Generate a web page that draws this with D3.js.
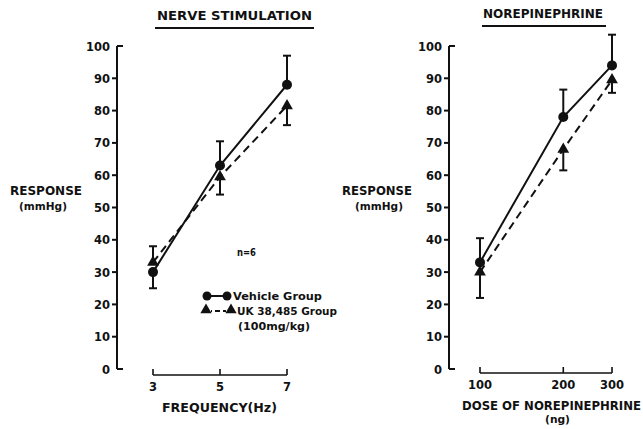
<!DOCTYPE html>
<html><head><meta charset="utf-8">
<script src="https://cdn.jsdelivr.net/npm/d3@7"></script>
<style>body{margin:0;background:#fff}svg{display:block}text{font-family:"DejaVu Sans",Arial,sans-serif;font-weight:bold;fill:#111}</style>
</head><body>
<script>
// Data
const freqCats = [3, 5, 7];
const freqVehicle = [30, 63, 88];
const freqVehicleErr = [5, 7.5, 9];
const freqUK = [33, 59.5, 81.5];
const freqUKErr = [5, 5.5, 6];

const doseCats = [100, 200, 300];
const doseVehicle = [33, 78, 94];
const doseVehicleErr = [7.5, 8.5, 9.5];
const doseUK = [30, 68, 89.5];
const doseUKErr = [8, 6.5, 4];

const yTicks = [0, 10, 20, 30, 40, 50, 60, 70, 80, 90, 100];

const W = 643, H = 429;
const svg = d3.select("body").append("svg").attr("width", W).attr("height", H);

function label(g, txt, x0, x1, yb, size) {
  return g.append("text").attr("x", x0).attr("y", yb).attr("font-size", size)
    .attr("textLength", x1 - x0).attr("lengthAdjust", "spacingAndGlyphs").text(txt);
}

function panel(opt) {
  const g = svg.append("g");
  const y = d3.scaleLinear().domain([0, 100]).range([369, 46]);
  const x = opt.x;
  const ax = opt.yAxisX;
  g.append("line").attr("x1", ax).attr("x2", ax).attr("y1", y(100)).attr("y2", y(0)).attr("stroke", "#111").attr("stroke-width", 2);
  g.append("line").attr("x1", ax).attr("x2", ax + 6).attr("y1", y(100)).attr("y2", y(100)).attr("stroke", "#111").attr("stroke-width", 2);
  g.append("line").attr("x1", ax).attr("x2", ax + 6).attr("y1", y(0)).attr("y2", y(0)).attr("stroke", "#111").attr("stroke-width", 2);
  yTicks.forEach(t => {
    if (t !== 0 && t !== 100)
      g.append("line").attr("x1", ax - 5).attr("x2", ax).attr("y1", y(t)).attr("y2", y(t)).attr("stroke", "#111").attr("stroke-width", 2);
    g.append("text").attr("x", ax - 7).attr("y", y(t) + 4.5).attr("text-anchor", "end")
      .attr("font-size", 11.5).text(t);
  });
  // y title
  label(g, "RESPONSE", opt.yT1[0], opt.yT1[1], 195, 11.5);
  label(g, "(mmHg)", opt.yT2[0], opt.yT2[1], 210, 10.5);
  // x axis
  const ay = opt.xAxisY;
  const [x0, x1] = x.range();
  g.append("line").attr("x1", x0).attr("x2", x1).attr("y1", ay).attr("y2", ay).attr("stroke", "#111").attr("stroke-width", 1.6);
  opt.cats.forEach(c => {
    g.append("line").attr("x1", x(c)).attr("x2", x(c)).attr("y1", ay).attr("y2", ay - 6).attr("stroke", "#111").attr("stroke-width", 1.6);
    g.append("text").attr("x", x(c)).attr("y", ay + 16).attr("text-anchor", "middle").attr("font-size", 11.5).text(c);
  });
  opt.xTitle.forEach(t => label(g, t[0], t[1], t[2], t[3], t[4]));
  // title
  label(g, opt.title, opt.titleX[0], opt.titleX[1], opt.titleY, 11.5);
  g.append("line").attr("x1", opt.ulX[0]).attr("x2", opt.ulX[1]).attr("y1", opt.titleY + 8).attr("y2", opt.titleY + 8).attr("stroke", "#111").attr("stroke-width", 2);

  const line = d3.line().x(d => x(d[0])).y(d => y(d[1]));
  const vData = opt.cats.map((c, i) => [c, opt.vehicle[i]]);
  const uData = opt.cats.map((c, i) => [c, opt.uk[i]]);
  opt.cats.forEach((c, i) => {
    const v = opt.vehicle[i], u = opt.uk[i];
    const vEnd = v >= u ? v + opt.vErr[i] : v - opt.vErr[i];
    const uEnd = v >= u ? u - opt.uErr[i] : u + opt.uErr[i];
    [[v, vEnd], [u, uEnd]].forEach(([a, b]) => {
      g.append("line").attr("x1", x(c)).attr("x2", x(c)).attr("y1", y(a)).attr("y2", y(b)).attr("stroke", "#111").attr("stroke-width", 2);
      g.append("line").attr("x1", x(c) - 4).attr("x2", x(c) + 4).attr("y1", y(b)).attr("y2", y(b)).attr("stroke", "#111").attr("stroke-width", 2);
    });
  });
  g.append("path").attr("d", line(uData)).attr("fill", "none").attr("stroke", "#111").attr("stroke-width", 2).attr("stroke-dasharray", "8,5");
  g.append("path").attr("d", line(vData)).attr("fill", "none").attr("stroke", "#111").attr("stroke-width", 2);
  const tri = d3.symbol().type(d3.symbolTriangle).size(60);
  uData.forEach(d => g.append("path").attr("d", tri()).attr("transform", `translate(${x(d[0])},${y(d[1])})`).attr("fill", "#111"));
  vData.forEach(d => g.append("circle").attr("cx", x(d[0])).attr("cy", y(d[1])).attr("r", 5).attr("fill", "#111"));
  return g;
}

panel({
  x: d3.scaleLinear().domain([3, 7]).range([153, 287]),
  cats: freqCats, vehicle: freqVehicle, vErr: freqVehicleErr, uk: freqUK, uErr: freqUKErr,
  yAxisX: 117, yT1: [10, 82], yT2: [19, 67], xAxisY: 375,
  xTitle: [["FREQUENCY(Hz)", 162, 277, 412, 11.5]],
  title: "NERVE STIMULATION", titleX: [157, 312], titleY: 20, ulX: [155, 314]
});
panel({
  x: d3.scaleLog().domain([100, 300]).range([480, 612]),
  cats: doseCats, vehicle: doseVehicle, vErr: doseVehicleErr, uk: doseUK, uErr: doseUKErr,
  yAxisX: 449, yT1: [342, 412], yT2: [355, 403], xAxisY: 373,
  xTitle: [["DOSE OF NOREPINEPHRINE", 462, 641, 410, 11.5], ["(ng)", 545, 570, 423, 10.5]],
  title: "NOREPINEPHRINE", titleX: [483, 603], titleY: 18, ulX: [482, 606]
});

// n=6 and legend
label(svg, "n=6", 237, 256, 256, 10.5);
svg.append("line").attr("x1", 207).attr("x2", 227).attr("y1", 296).attr("y2", 296).attr("stroke", "#111").attr("stroke-width", 2);
[207, 227].forEach(cx => svg.append("circle").attr("cx", cx).attr("cy", 296).attr("r", 4.5).attr("fill", "#111"));
svg.append("line").attr("x1", 211).attr("x2", 226).attr("y1", 311).attr("y2", 311).attr("stroke", "#111").attr("stroke-width", 2).attr("stroke-dasharray", "5,3").attr("stroke-dashoffset", -4);
const tri2 = d3.symbol().type(d3.symbolTriangle).size(55);
[206, 231].forEach(cx => svg.append("path").attr("d", tri2()).attr("transform", `translate(${cx},310)`).attr("fill", "#111"));
label(svg, "Vehicle Group", 233, 322, 300, 11);
label(svg, "UK 38,485 Group", 237, 337, 315, 11);
label(svg, "(100mg/kg)", 238, 310, 330, 10.5);
</script>
</body></html>
